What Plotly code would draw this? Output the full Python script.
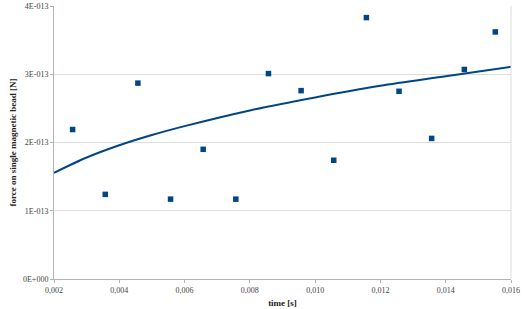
import plotly.graph_objects as go

# measured data (time in s, force in N)
time_s = [0.00257, 0.00357, 0.00457, 0.00557, 0.00657, 0.00757, 0.00857,
          0.00957, 0.01057, 0.01157, 0.01257, 0.01357, 0.01457, 0.01552]
force_N = [2.19e-13, 1.24e-13, 2.87e-13, 1.17e-13, 1.90e-13, 1.17e-13, 3.01e-13,
           2.76e-13, 1.74e-13, 3.83e-13, 2.75e-13, 2.06e-13, 3.07e-13, 3.62e-13]

# trend line
trend_x = [0.002, 0.003, 0.004, 0.005, 0.006, 0.008, 0.010, 0.012, 0.014, 0.016]
trend_y = [1.556e-13, 1.78e-13, 1.96e-13, 2.11e-13, 2.24e-13, 2.47e-13,
           2.66e-13, 2.83e-13, 2.97e-13, 3.11e-13]

x_tickvals = [0.002, 0.004, 0.006, 0.008, 0.010, 0.012, 0.014, 0.016]
x_ticktext = ["0,002", "0,004", "0,006", "0,008", "0,010", "0,012", "0,014", "0,016"]
y_tickvals = [0, 1e-13, 2e-13, 3e-13, 4e-13]
y_ticktext = ["0E+000", "1E-013", "2E-013", "3E-013", "4E-013"]

BLUE = "#004586"
FONT = "Liberation Serif"
TICK = "#444444"

fig = go.Figure()
fig.add_trace(go.Scatter(x=trend_x, y=trend_y, mode="lines",
                         line=dict(color=BLUE, width=2, shape="spline", smoothing=0.8),
                         hoverinfo="skip"))
fig.add_trace(go.Scatter(x=time_s, y=force_N, mode="markers",
                         marker=dict(symbol="square", size=5.5, color=BLUE)))

fig.update_layout(
    width=526, height=309,
    margin=dict(l=54, r=15, t=6, b=30),
    paper_bgcolor="white", plot_bgcolor="white",
    showlegend=False,
    font=dict(family=FONT, size=8, color=TICK),
    xaxis=dict(range=[0.002, 0.016], tickvals=x_tickvals, ticktext=x_ticktext,
               automargin=False,
               showgrid=False, zeroline=False, showline=True, linecolor="#b3b3b3",
               linewidth=1, ticks="outside", ticklen=3, tickcolor="#b3b3b3",
               tickfont=dict(family=FONT, size=8, color=TICK),
               title=dict(text="<b>time [s]</b>", standoff=6,
                          font=dict(family=FONT, size=9, color="#222222"))),
    yaxis=dict(range=[0, 4e-13], tickvals=y_tickvals, ticktext=y_ticktext,
               automargin=False,
               showgrid=True, gridcolor="#dddddd", gridwidth=1, zeroline=False,
               showline=True, linecolor="#b3b3b3", linewidth=1,
               ticks="outside", ticklen=3, tickcolor="#b3b3b3",
               tickfont=dict(family=FONT, size=8, color=TICK),
               title=dict(text="<b>force on single magnetic bead [N]</b>", standoff=4,
                          font=dict(family=FONT, size=9, color="#222222"))),
    shapes=[dict(type="line", xref="paper", yref="paper", x0=1, x1=1, y0=0, y1=1,
                 line=dict(color="#dddddd", width=1))],
)

fig.write_html("out.html", config={"displayModeBar": False},
               post_script="document.body.style.margin='0';document.body.style.overflow='hidden';")
